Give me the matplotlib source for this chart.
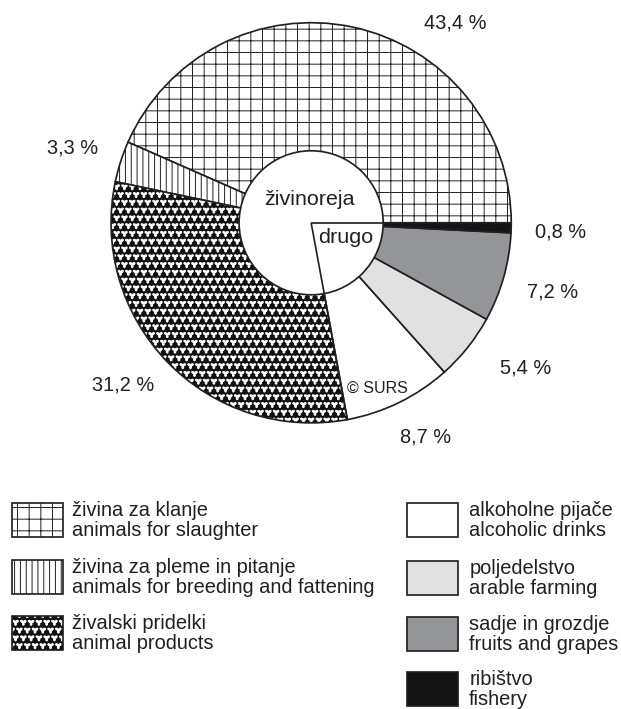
import numpy as np
import matplotlib
matplotlib.use("Agg")
import matplotlib.pyplot as plt
import matplotlib.hatch as mhatch
from matplotlib.path import Path
from matplotlib.patches import Wedge, Circle, Rectangle

# ---------------- data ----------------
categories_sl = ["živina za klanje", "živina za pleme in pitanje", "živalski pridelki",
                 "alkoholne pijače", "poljedelstvo", "sadje in grozdje", "ribištvo"]
categories_en = ["animals for slaughter", "animals for breeding and fattening", "animal products",
                 "alcoholic drinks", "arable farming", "fruits and grapes", "fishery"]
shares = [43.4, 3.3, 31.2, 8.7, 5.4, 7.2, 0.8]
group_labels = ["živinoreja", "drugo"]
n_livestock = 3
credit = "© SURS"

# ---------------- styles / layout ----------------
W, H, DPI = 621, 709, 140
EDGE = "#231f20"
TXT = "#231f20"
face = ["white", "white", "#111111", "white", "#e1e1e1", "#939598", "#151515"]
hatches = ["++", "||||", "***", None, None, None, None]
white_hatch = [False, False, True, False, False, False, False]

CX, CY_IMG, R, R_IN = 311, 223, 200, 72
pct_pos = [(455, 23), (73, 148), (123, 385), (425, 437), (525, 368), (552, 292), (560, 232)]
group_pos = [(309, 199), (346, 237)]
credit_pos = (377, 388)
legend_cols = {0: (12, 72), 1: (407, 469)}   # box x, text x
legend_rows = [(0, 503), (0, 560), (0, 616), (1, 503), (1, 561), (1, 617), (1, 672)]
BOX_W, BOX_H = 51, 34


def pt(px):
    return px * 72.0 / DPI


def Y(y_img):
    return H - y_img


plt.rcParams["font.family"] = ["Liberation Sans", "DejaVu Sans"]
plt.rcParams["hatch.linewidth"] = 0.5


# trefoil texture for "animal products"
class Trefoils(mhatch.Shapes):
    size = 0.40
    filled = True

    def __init__(self, hatch, density):
        self.num_rows = hatch.count("*") * density
        t = np.linspace(0, 2 * np.pi, 61)
        r = 0.58 + 0.42 * np.cos(3 * (t + np.pi / 2))
        self.shape_vertices = np.column_stack([r * np.cos(t), r * np.sin(t)])
        self.shape_codes = np.full(len(t), Path.LINETO, dtype=Path.code_type)
        self.shape_codes[0] = Path.MOVETO
        super().__init__(hatch, density)


mhatch._hatch_types = [Trefoils if c is mhatch.Stars else c for c in mhatch._hatch_types]

fig = plt.figure(figsize=((W + 0.3) / DPI, (H + 0.3) / DPI), dpi=DPI)
ax = fig.add_axes([0, 0, 1, 1])
CY = Y(CY_IMG)
LW = pt(1.7)

wedges, _ = ax.pie(shares, startangle=0, counterclock=True, center=(CX, CY), radius=R,
                   colors=face, wedgeprops=dict(linewidth=LW, edgecolor=EDGE))
for i, w in enumerate(wedges):
    if hatches[i]:
        if white_hatch[i]:
            w.set_edgecolor("white")
            w.set_linewidth(0)
        w.set_hatch(hatches[i])
    if white_hatch[i]:
        ax.add_patch(Wedge(w.center, w.r, w.theta1, w.theta2, fill=False,
                           edgecolor=EDGE, linewidth=LW, zorder=2))

ax.add_patch(Circle((CX, CY), R_IN, facecolor="white", edgecolor=EDGE, linewidth=LW, zorder=3))
for ang in (wedges[0].theta1, wedges[n_livestock - 1].theta2):
    a = np.deg2rad(ang)
    ax.plot([CX, CX + R_IN * np.cos(a)], [CY, CY + R_IN * np.sin(a)],
            color=EDGE, linewidth=LW, zorder=4, solid_capstyle="butt")

# percentage labels
for v, (x, y) in zip(shares, pct_pos):
    ax.text(x, Y(y), f"{v:.1f}".replace(".", ",") + " %", fontsize=pt(20), color=TXT,
            ha="center", va="center", zorder=5)

for lab, (x, y) in zip(group_labels, group_pos):
    ax.text(x, Y(y), lab, fontsize=pt(21.5), color=TXT, ha="center", va="center", zorder=5)
ax.text(credit_pos[0], Y(credit_pos[1]), credit, fontsize=pt(16), color=TXT,
        ha="center", va="center", zorder=5)

# legend
for i, (col, top) in enumerate(legend_rows):
    bx, tx = legend_cols[col]
    if white_hatch[i]:
        ax.add_patch(Rectangle((bx, Y(top + BOX_H)), BOX_W, BOX_H, facecolor=face[i],
                               edgecolor="white", linewidth=0, hatch=hatches[i]))
        ax.add_patch(Rectangle((bx, Y(top + BOX_H)), BOX_W, BOX_H, fill=False,
                               edgecolor=EDGE, linewidth=LW))
    else:
        ax.add_patch(Rectangle((bx, Y(top + BOX_H)), BOX_W, BOX_H, facecolor=face[i],
                               edgecolor=EDGE, linewidth=LW, hatch=hatches[i]))
    ax.text(tx, Y(top + 7), categories_sl[i], fontsize=pt(20), color=TXT, ha="left", va="center")
    ax.text(tx, Y(top + 27), categories_en[i], fontsize=pt(20), color=TXT, ha="left", va="center")

ax.set_xlim(0, W)
ax.set_ylim(0, H)
ax.set_aspect("auto")
ax.axis("off")
fig.savefig("out.png", dpi=DPI, facecolor="white")
